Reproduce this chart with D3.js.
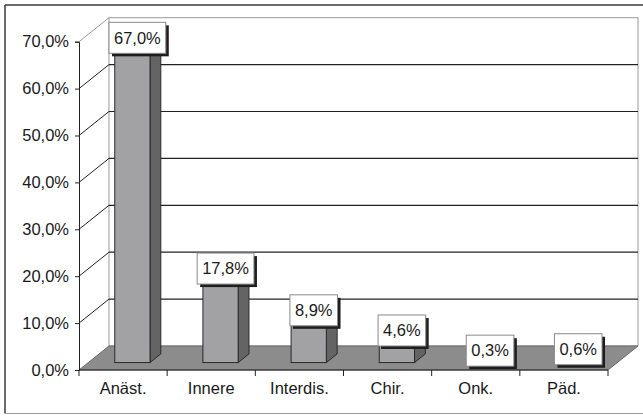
<!DOCTYPE html>
<html>
<head>
<meta charset="utf-8">
<script src="https://cdn.jsdelivr.net/npm/d3@7"></script>
<style>
  html, body { margin: 0; padding: 0; background: #fff; }
  svg { display: block; font-family: "Liberation Sans", Arial, sans-serif; }
</style>
</head>
<body>
<svg id="chart" width="643" height="416"></svg>
<script>
// Share of cases by department (percent)
const categories = ["Anäst.", "Innere", "Interdis.", "Chir.", "Onk.", "Päd."];
const values = [67.0, 17.8, 8.9, 4.6, 0.3, 0.6];
const yTicks = [0, 10, 20, 30, 40, 50, 60, 70];

(function () {
const svg = d3.select("#chart");
const W = 643, H = 416;
const FS = 16.5;

// front plane of the 3D box
const plotLeft = 79, plotRight = 608, plotBottom = 370, plotTop = 41.7;
// depth offset of the back wall
const DX = 30, DY = -24;
// bar depth (fraction of total depth): front and back faces
const f0 = 0.31, f1 = 0.67;

const de = d3.formatLocale({ decimal: ",", thousands: ".", grouping: [3], currency: ["", "€"] });
const fmt = v => de.format(".1f")(v) + "%";

const x = d3.scaleBand().domain(categories).range([plotLeft, plotRight]).paddingInner(0).paddingOuter(0);
const y = d3.scaleLinear().domain([0, 70]).range([plotBottom, plotTop]);

// outer frame
svg.append("line").attr("x1", 5).attr("y1", 5).attr("x2", W).attr("y2", 5)
  .attr("stroke", "#3a3a3a").attr("stroke-width", 1.5);
svg.append("line").attr("x1", 5).attr("y1", 5).attr("x2", 5).attr("y2", 413.5)
  .attr("stroke", "#3a3a3a").attr("stroke-width", 1.5);
svg.append("line").attr("x1", 5).attr("y1", 413.5).attr("x2", W).attr("y2", 413.5)
  .attr("stroke", "#9a9a9a").attr("stroke-width", 1);

// back wall
const wx0 = plotLeft + DX, wx1 = plotRight + DX;
svg.append("rect")
  .attr("x", wx0).attr("y", y(70) + DY)
  .attr("width", wx1 - wx0).attr("height", y(0) - y(70))
  .attr("fill", "#fff").attr("stroke", "#9a9a9a").attr("stroke-width", 1);

// gridlines on the back wall plus the connectors to the axis
yTicks.forEach(t => {
  const dark = t > 0 && t < 70;
  if (dark) {
    svg.append("line")
      .attr("x1", wx0).attr("x2", wx1)
      .attr("y1", y(t) + DY).attr("y2", y(t) + DY)
      .attr("stroke", "#222").attr("stroke-width", 1.2);
  }
  if (t > 0) {
    svg.append("line")
      .attr("x1", plotLeft).attr("y1", y(t))
      .attr("x2", wx0).attr("y2", y(t) + DY)
      .attr("stroke", dark ? "#222" : "#9a9a9a").attr("stroke-width", 1);
  }
});

// floor
svg.append("path")
  .attr("d", d3.line()([[plotLeft, y(0)], [plotRight, y(0)], [plotRight + DX, y(0) + DY], [plotLeft + DX, y(0) + DY]]) + "Z")
  .attr("fill", "#8c8c8c").attr("stroke", "#6a6a6a").attr("stroke-width", 1);
svg.append("line")
  .attr("x1", plotLeft).attr("x2", plotRight).attr("y1", y(0)).attr("y2", y(0))
  .attr("stroke", "#222").attr("stroke-width", 1);

// y axis
const yAxis = svg.append("g").attr("transform", `translate(${plotLeft},0)`)
  .call(d3.axisLeft(y).tickValues(yTicks).tickSize(4).tickPadding(6).tickFormat(fmt));
yAxis.select(".domain").attr("stroke", "#222");
yAxis.selectAll(".tick line").attr("stroke", "#222");
yAxis.selectAll("text").attr("font-size", FS).attr("fill", "#1a1a1a")
  .attr("font-family", "Liberation Sans, Arial, sans-serif");

// x axis: labels at band centres, ticks at band edges
const xAxis = svg.append("g").attr("transform", `translate(0,${y(0)})`)
  .call(d3.axisBottom(x).tickSize(0).tickPadding(12));
xAxis.select(".domain").remove();
xAxis.selectAll("text").attr("font-size", FS).attr("fill", "#1a1a1a")
  .attr("font-family", "Liberation Sans, Arial, sans-serif");
const edges = categories.map(c => x(c)).concat([x(categories[categories.length - 1]) + x.bandwidth()]);
svg.append("g").selectAll("line").data(edges).join("line")
  .attr("x1", d => d).attr("x2", d => d)
  .attr("y1", y(0)).attr("y2", y(0) + 6)
  .attr("stroke", "#222").attr("stroke-width", 1);

// bars (3D columns)
const bw = x.bandwidth() * 0.40;
const bars = svg.append("g");
const labels = [];
categories.forEach((c, i) => {
  const v = values[i];
  const cx = x(c) + x.bandwidth() / 2;
  const ox = DX * f0, oy = DY * f0;      // front-face offset into depth
  const sx = DX * (f1 - f0), sy = DY * (f1 - f0); // depth of the column
  const x0 = cx - bw / 2 + ox, x1 = cx + bw / 2 + ox;
  const yb = y(0) + oy, yt = y(v) + oy;
  const g = bars.append("g");
  // side face
  g.append("path")
    .attr("d", d3.line()([[x1, yb], [x1 + sx, yb + sy], [x1 + sx, yt + sy], [x1, yt]]) + "Z")
    .attr("fill", "#646464").attr("stroke", "#2a2a2a").attr("stroke-width", 1);
  // top face
  g.append("path")
    .attr("d", d3.line()([[x0, yt], [x1, yt], [x1 + sx, yt + sy], [x0 + sx, yt + sy]]) + "Z")
    .attr("fill", "#b4b4b4").attr("stroke", "#2a2a2a").attr("stroke-width", 1);
  // front face
  g.append("rect")
    .attr("x", x0).attr("y", yt).attr("width", x1 - x0).attr("height", yb - yt)
    .attr("fill", "#a2a2a4").attr("stroke", "#2a2a2a").attr("stroke-width", 1);
  labels.push({ v, cx: (x0 + x1) / 2 + 5, yBottom: yt + 5 });
});

// value labels in boxes with drop shadow
const lg = svg.append("g");
labels.forEach(d => {
  const g = lg.append("g");
  const t = g.append("text")
    .attr("x", d.cx).attr("y", d.yBottom - 15.5)
    .attr("dy", "0.35em")
    .attr("text-anchor", "middle")
    .attr("font-size", FS).attr("fill", "#1a1a1a")
    .attr("font-family", "Liberation Sans, Arial, sans-serif")
    .text(fmt(d.v));
  const tw = t.node().getComputedTextLength();
  const bwid = tw + 10, bh = 31;
  const bx = d.cx - bwid / 2, by = d.yBottom - bh;
  g.insert("rect", "text")
    .attr("x", bx + 3).attr("y", by + 3).attr("width", bwid).attr("height", bh)
    .attr("fill", "#1e1e1e");
  g.insert("rect", "text")
    .attr("x", bx).attr("y", by).attr("width", bwid).attr("height", bh)
    .attr("fill", "#fff").attr("stroke", "#8a8a8a").attr("stroke-width", 1);
});
})();
</script>
</body>
</html>
